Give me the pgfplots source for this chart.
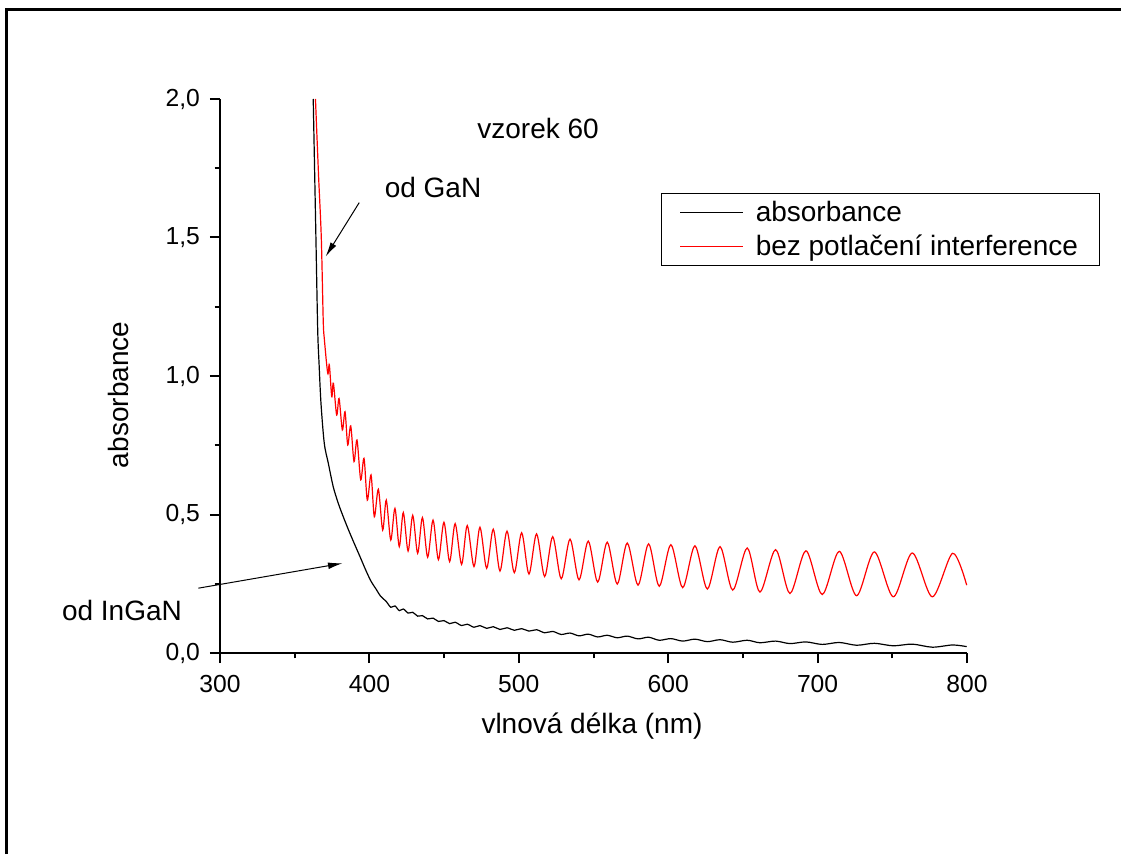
\documentclass[border=0pt]{standalone}
\usepackage{fontspec}
\setmainfont{Liberation Sans}
\usepackage{pgfplots}
\pgfplotsset{compat=1.18}
\usetikzlibrary{arrows.meta}

\begin{document}
\begin{tikzpicture}
% page size (1 px of the reference = 0.75pt), axis corner at (0,0)
\path[use as bounding box] (-165pt,-150.75pt) rectangle (675.75pt,489.75pt);
\begin{axis}[
    scale only axis,
    width=560.25pt, height=415.5pt,
    xmin=300, xmax=800, ymin=0, ymax=2,
    axis lines*=left,
    axis line style={line width=1.5pt,-},
    tick pos=left, tick align=outside,
    xtick={300,400,...,800}, ytick={0,0.5,...,2},
    minor x tick num=1, minor y tick num=1,
    major tick length=7.5pt, minor tick length=4pt,
    every tick/.style={black,line width=1.5pt},
    /pgf/number format/assume math mode=true,
    tick label style={font=\fontsize{18.5}{22}\selectfont},
    xticklabel style={yshift=-6pt},
    yticklabel style={xshift=-4pt,/pgf/number format/.cd,fixed,fixed zerofill,precision=1,use comma},
    label style={font=\fontsize{21}{25}\selectfont},
    xlabel={vlnová délka (nm)},
    ylabel={absorbance},
    xlabel style={at={(axis description cs:0.498,-0.132)},anchor=center},
    ylabel style={at={(axis description cs:-0.1365,0.466)},anchor=center},
    clip=false,
    legend style={at={(axis description cs:0.590,0.830)},anchor=north west,
        draw=black, line width=0.75pt, font=\fontsize{21}{25}\selectfont,
        inner xsep=14pt, inner ysep=3.5pt, row sep=5pt,
        /tikz/every odd column/.append style={column sep=7pt},
        cells={anchor=west}},
    legend image code/.code={\draw[#1] (0pt,0pt) -- (47pt,0pt);},
]
\addplot[black, line width=0.9pt, smooth] coordinates {
(362.4,2.0) (363.3,1.75) (364.2,1.5) (365.4,1.166) (366.3,1.046) (367.6,0.901)
(369.8,0.757) (372.5,0.685) (375.8,0.600) (379.2,0.540) (382.5,0.492) (385.9,0.446)
(389.5,0.400) (393.7,0.348) (397.5,0.300) (401.0,0.260) (404.9,0.227) (407.5,0.205)
(411.3,0.186) (414.3,0.165) (417.1,0.170) (420.0,0.153) (422.7,0.159) (425.9,0.144)
(429.0,0.147) (432.3,0.133) (435.5,0.135) (439.0,0.123) (442.6,0.126) (446.2,0.114)
(449.9,0.117) (453.7,0.106) (457.4,0.111) (461.7,0.099) (465.5,0.104) (470.0,0.093)
(474.0,0.099) (478.5,0.089) (482.9,0.095) (487.4,0.085) (492.1,0.091) (497.0,0.082)
(501.9,0.088) (506.8,0.079) (511.9,0.084) (517.3,0.073) (522.7,0.078) (528.4,0.067)
(534.3,0.072) (540.3,0.062) (546.5,0.068) (552.8,0.058) (559.2,0.064) (565.9,0.055)
(572.6,0.061) (579.8,0.051) (586.9,0.057) (594.0,0.046) (601.8,0.052) (609.7,0.043)
(617.9,0.050) (626.2,0.041) (634.7,0.048) (643.2,0.039) (652.9,0.046) (661.4,0.037)
(671.9,0.043) (681.5,0.034) (692.2,0.040) (703.1,0.031) (714.5,0.038) (726.1,0.028)
(738.0,0.035) (750.7,0.026) (763.4,0.032) (776.8,0.021) (790.4,0.029) (799.8,0.023)
};
\addlegendentry{absorbance}
\addplot[red, line width=0.9pt, smooth] coordinates {
(363.9,2.0) (366.0,1.72) (367.8,1.5) (369.1,1.2) (369.8,1.136)
(372.1,1.010) (373.2,1.040) (374.8,0.925) (375.9,0.974) (378.1,0.859) (379.7,0.919)
(381.9,0.805) (383.7,0.871) (385.5,0.751) (387.5,0.820) (389.7,0.691) (391.7,0.769)
(394.2,0.625) (396.4,0.703) (398.6,0.552) (401.1,0.643) (403.3,0.492) (406.0,0.591)
(408.9,0.444) (411.3,0.552) (414.3,0.408) (417.1,0.522) (420.0,0.384) (422.7,0.507)
(425.9,0.368) (429.0,0.497) (432.3,0.360) (435.5,0.489) (439.0,0.346) (442.6,0.480)
(446.2,0.337) (449.9,0.472) (453.7,0.330) (457.4,0.467) (461.7,0.320) (465.5,0.460)
(470.0,0.312) (474.0,0.454) (478.5,0.306) (482.9,0.447) (487.4,0.296) (492.1,0.440)
(497.0,0.290) (501.9,0.434) (506.8,0.285) (511.9,0.430) (517.3,0.276) (522.7,0.420)
(528.4,0.268) (534.3,0.411) (540.3,0.264) (546.5,0.404) (552.8,0.256) (559.2,0.400)
(565.9,0.249) (572.6,0.397) (579.8,0.245) (586.9,0.394) (594.0,0.241) (601.8,0.391)
(609.7,0.236) (617.9,0.387) (626.2,0.231) (634.7,0.384) (643.2,0.227) (652.9,0.379)
(661.4,0.220) (671.9,0.373) (681.5,0.215) (692.2,0.369) (703.1,0.211) (714.5,0.367)
(726.1,0.207) (738.0,0.365) (750.7,0.203) (763.4,0.361) (776.8,0.203) (790.4,0.360)
(799.8,0.245)
};
\addlegendentry{bez potlačení interference}
\node[font=\fontsize{21}{25}\selectfont] at (axis cs:512.9,1.895) {vzorek 60};
\node[font=\fontsize{21}{25}\selectfont] at (axis cs:442.6,1.682) {od GaN};
\node[font=\fontsize{21}{25}\selectfont] at (axis cs:234.4,0.152) {od InGaN};
\draw[line width=0.75pt,-{Latex[length=11pt,width=5pt]}] (axis cs:393.2,1.626) -- (axis cs:370.7,1.431);
\draw[line width=0.75pt,-{Latex[length=11pt,width=5pt]}] (axis cs:285.5,0.234) -- (axis cs:382.1,0.324);
\end{axis}
\draw[line width=2.25pt] (-160.1pt,-150.75pt) -- (-160.1pt,482.5pt) -- (675.75pt,482.5pt);
\end{tikzpicture}
\end{document}
